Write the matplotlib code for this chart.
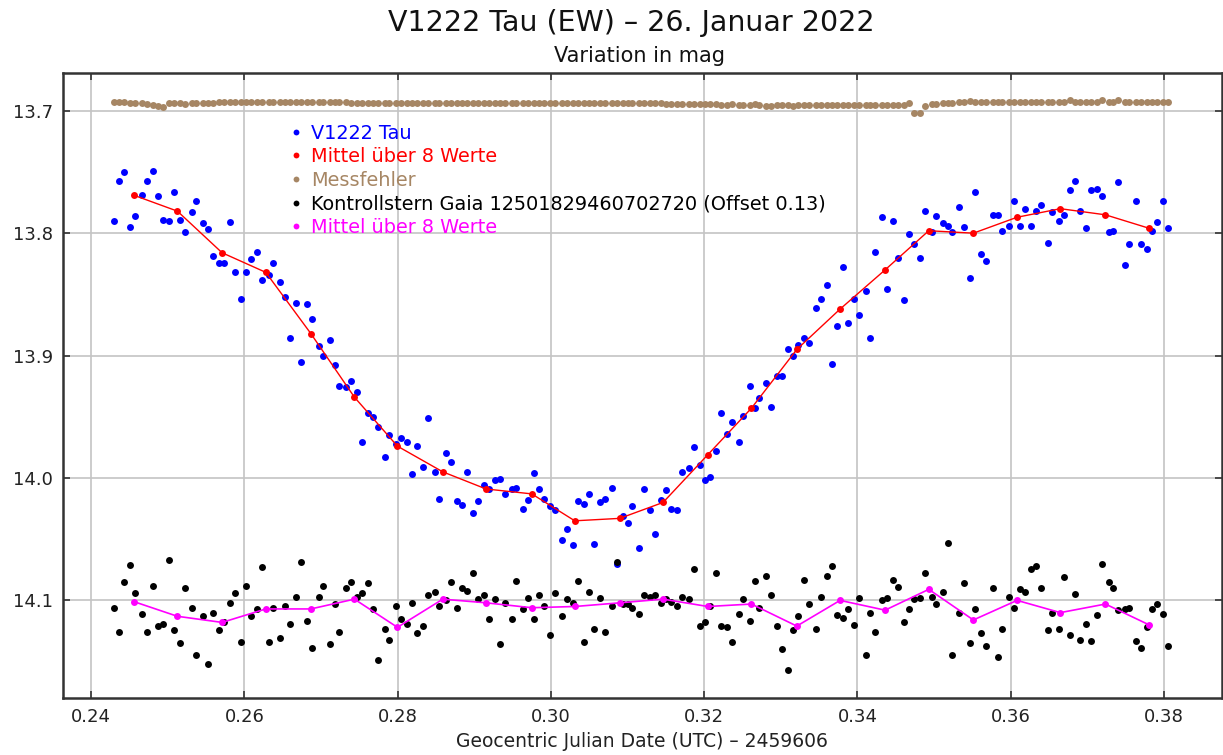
# -*- coding: utf-8 -*-
"""
V1222 Tau Lichtkurve (26.01.2022)
- Variable, Mittel ueber 8 Werte, Messfehler, Kontrollstern
"""

import matplotlib
matplotlib.use('Agg')
import matplotlib.pyplot as plt
from matplotlib.lines import Line2D

plt.rcParams['font.family'] = ['DejaVu Sans']

# ============================================================
# Daten (JD - 2459606)
# ============================================================
jd = [
    0.24300, 0.24369, 0.24431, 0.24513, 0.24578, 0.24662, 0.24727, 0.24809,
    0.24874, 0.24936, 0.25018, 0.25083, 0.25165, 0.25230, 0.25314, 0.25374,
    0.25457, 0.25523, 0.25588, 0.25666, 0.25731, 0.25818, 0.25879, 0.25961,
    0.26022, 0.26088, 0.26170, 0.26235, 0.26319, 0.26379, 0.26466, 0.26527,
    0.26593, 0.26675, 0.26736, 0.26822, 0.26884, 0.26971, 0.27031, 0.27115,
    0.27180, 0.27240, 0.27323, 0.27389, 0.27471, 0.27536, 0.27618, 0.27683,
    0.27745, 0.27832, 0.27892, 0.27976, 0.28045, 0.28127, 0.28188, 0.28254,
    0.28336, 0.28401, 0.28485, 0.28545, 0.28632, 0.28693, 0.28776, 0.28841,
    0.28902, 0.28988, 0.29050, 0.29132, 0.29193, 0.29275, 0.29341, 0.29406,
    0.29489, 0.29549, 0.29637, 0.29698, 0.29780, 0.29846, 0.29911, 0.29993,
    0.30054, 0.30142, 0.30207, 0.30289, 0.30354, 0.30437, 0.30498, 0.30563,
    0.30645, 0.30707, 0.30794, 0.30859, 0.30938, 0.31003, 0.31063, 0.31146,
    0.31212, 0.31294, 0.31359, 0.31441, 0.31503, 0.31568, 0.31650, 0.31715,
    0.31799, 0.31864, 0.31946, 0.32011, 0.32077, 0.32155, 0.32220, 0.32302,
    0.32364, 0.32451, 0.32511, 0.32595, 0.32660, 0.32720, 0.32803, 0.32869,
    0.32951, 0.33016, 0.33098, 0.33164, 0.33225, 0.33307, 0.33372, 0.33456,
    0.33521, 0.33603, 0.33665, 0.33730, 0.33812, 0.33877, 0.33960, 0.34021,
    0.34108, 0.34168, 0.34234, 0.34317, 0.34382, 0.34465, 0.34526, 0.34612,
    0.34673, 0.34734, 0.34821, 0.34882, 0.34969, 0.35030, 0.35113, 0.35178,
    0.35238, 0.35326, 0.35387, 0.35469, 0.35534, 0.35617, 0.35682, 0.35765,
    0.35831, 0.35891, 0.35978, 0.36039, 0.36126, 0.36187, 0.36269, 0.36334,
    0.36396, 0.36483, 0.36543, 0.36627, 0.36692, 0.36774, 0.36839, 0.36901,
    0.36983, 0.37048, 0.37130, 0.37196, 0.37279, 0.37339, 0.37404, 0.37488,
    0.37548, 0.37635, 0.37697, 0.37783, 0.37844, 0.37909, 0.37992, 0.38057,
]

var_mag = [
    13.790, 13.757, 13.750, 13.795, 13.786, 13.769, 13.757, 13.749,
    13.770, 13.789, 13.790, 13.766, 13.789, 13.799, 13.783, 13.774,
    13.792, 13.797, 13.819, 13.824, 13.824, 13.791, 13.832, 13.854,
    13.832, 13.821, 13.815, 13.838, 13.834, 13.824, 13.840, 13.852,
    13.886, 13.857, 13.905, 13.858, 13.870, 13.892, 13.900, 13.887,
    13.908, 13.925, 13.926, 13.921, 13.930, 13.971, 13.947, 13.950,
    13.958, 13.983, 13.965, 13.972, 13.967, 13.971, 13.997, 13.974,
    13.991, 13.951, 13.995, 14.017, 13.980, 13.987, 14.019, 14.022,
    13.995, 14.029, 14.019, 14.006, 14.009, 14.002, 14.001, 14.013,
    14.009, 14.008, 14.025, 14.018, 13.996, 14.009, 14.017, 14.023,
    14.026, 14.051, 14.042, 14.055, 14.019, 14.021, 14.013, 14.054,
    14.020, 14.017, 14.008, 14.070, 14.031, 14.037, 14.023, 14.057,
    14.009, 14.026, 14.046, 14.018, 14.010, 14.025, 14.026, 13.995,
    13.992, 13.975, 13.989, 14.002, 13.999, 13.978, 13.947, 13.964,
    13.954, 13.971, 13.949, 13.925, 13.943, 13.935, 13.922, 13.942,
    13.917, 13.917, 13.895, 13.900, 13.891, 13.886, 13.890, 13.861,
    13.854, 13.842, 13.907, 13.876, 13.828, 13.873, 13.854, 13.867,
    13.847, 13.886, 13.815, 13.787, 13.846, 13.790, 13.820, 13.855,
    13.801, 13.809, 13.820, 13.782, 13.799, 13.786, 13.792, 13.794,
    13.799, 13.779, 13.795, 13.837, 13.766, 13.817, 13.823, 13.785,
    13.785, 13.798, 13.794, 13.774, 13.794, 13.780, 13.794, 13.782,
    13.777, 13.808, 13.783, 13.790, 13.785, 13.765, 13.757, 13.782,
    13.796, 13.765, 13.764, 13.770, 13.799, 13.798, 13.758, 13.826,
    13.809, 13.774, 13.809, 13.813, 13.798, 13.791, 13.774, 13.796,
]

err_mag = [
    13.6928, 13.6928, 13.6928, 13.6935, 13.6935, 13.6938, 13.6945, 13.6952,
    13.6962, 13.6968, 13.6940, 13.6940, 13.6940, 13.6942, 13.6940, 13.6940,
    13.6940, 13.6938, 13.6935, 13.6932, 13.6928, 13.6928, 13.6928, 13.6926,
    13.6928, 13.6928, 13.6926, 13.6928, 13.6928, 13.6928, 13.6926, 13.6928,
    13.6928, 13.6928, 13.6926, 13.6928, 13.6930, 13.6930, 13.6930, 13.6932,
    13.6930, 13.6930, 13.6930, 13.6938, 13.6940, 13.6940, 13.6940, 13.6940,
    13.6940, 13.6938, 13.6940, 13.6940, 13.6940, 13.6940, 13.6940, 13.6940,
    13.6938, 13.6940, 13.6940, 13.6940, 13.6938, 13.6936, 13.6938, 13.6938,
    13.6935, 13.6938, 13.6938, 13.6936, 13.6935, 13.6935, 13.6935, 13.6935,
    13.6935, 13.6935, 13.6935, 13.6935, 13.6935, 13.6935, 13.6935, 13.6935,
    13.6935, 13.6935, 13.6935, 13.6935, 13.6940, 13.6940, 13.6940, 13.6940,
    13.6940, 13.6940, 13.6940, 13.6940, 13.6940, 13.6940, 13.6940, 13.6940,
    13.6940, 13.6940, 13.6940, 13.6940, 13.6945, 13.6945, 13.6945, 13.6945,
    13.6945, 13.6945, 13.6945, 13.6945, 13.6945, 13.6945, 13.6950, 13.6950,
    13.6948, 13.6950, 13.6950, 13.6950, 13.6948, 13.6952, 13.6960, 13.6962,
    13.6955, 13.6950, 13.6955, 13.6958, 13.6955, 13.6950, 13.6955, 13.6955,
    13.6950, 13.6950, 13.6955, 13.6955, 13.6950, 13.6950, 13.6950, 13.6952,
    13.6950, 13.6955, 13.6955, 13.6955, 13.6952, 13.6950, 13.6955, 13.6955,
    13.6937, 13.7018, 13.7018, 13.6964, 13.6941, 13.6941, 13.6938, 13.6935,
    13.6938, 13.6930, 13.6925, 13.6918, 13.6925, 13.6928, 13.6928, 13.6928,
    13.6928, 13.6928, 13.6928, 13.6928, 13.6928, 13.6928, 13.6928, 13.6928,
    13.6925, 13.6928, 13.6928, 13.6928, 13.6928, 13.6908, 13.6925, 13.6928,
    13.6928, 13.6928, 13.6928, 13.6910, 13.6928, 13.6928, 13.6912, 13.6928,
    13.6928, 13.6928, 13.6928, 13.6928, 13.6928, 13.6928, 13.6928, 13.6928,
]

chk_mag = [
    14.106, 14.126, 14.085, 14.071, 14.094, 14.111, 14.126, 14.088,
    14.121, 14.119, 14.067, 14.124, 14.135, 14.090, 14.106, 14.145,
    14.113, 14.152, 14.110, 14.124, 14.118, 14.102, 14.094, 14.134,
    14.088, 14.113, 14.107, 14.073, 14.134, 14.106, 14.131, 14.105,
    14.119, 14.097, 14.069, 14.117, 14.139, 14.097, 14.088, 14.136,
    14.103, 14.126, 14.090, 14.085, 14.097, 14.094, 14.086, 14.107,
    14.149, 14.123, 14.132, 14.105, 14.115, 14.119, 14.102, 14.127,
    14.121, 14.096, 14.093, 14.105, 14.100, 14.085, 14.106, 14.090,
    14.092, 14.078, 14.099, 14.096, 14.115, 14.099, 14.136, 14.102,
    14.115, 14.084, 14.107, 14.098, 14.115, 14.096, 14.105, 14.128,
    14.094, 14.113, 14.099, 14.102, 14.084, 14.134, 14.093, 14.123,
    14.098, 14.126, 14.105, 14.069, 14.103, 14.103, 14.106, 14.111,
    14.096, 14.097, 14.096, 14.102, 14.099, 14.101, 14.105, 14.097,
    14.099, 14.074, 14.121, 14.118, 14.105, 14.078, 14.121, 14.122,
    14.134, 14.111, 14.099, 14.117, 14.084, 14.106, 14.080, 14.096,
    14.121, 14.140, 14.157, 14.124, 14.113, 14.083, 14.103, 14.123,
    14.097, 14.080, 14.072, 14.112, 14.114, 14.107, 14.120, 14.098,
    14.145, 14.110, 14.126, 14.100, 14.098, 14.083, 14.089, 14.118,
    14.107, 14.099, 14.098, 14.078, 14.097, 14.103, 14.093, 14.053,
    14.145, 14.110, 14.086, 14.135, 14.107, 14.127, 14.137, 14.090,
    14.146, 14.123, 14.097, 14.106, 14.091, 14.093, 14.074, 14.072,
    14.090, 14.124, 14.110, 14.123, 14.081, 14.128, 14.095, 14.132,
    14.119, 14.133, 14.112, 14.070, 14.085, 14.090, 14.108, 14.107,
    14.106, 14.133, 14.139, 14.122, 14.107, 14.103, 14.111, 14.137,
]

# Mittelwerte ueber je 8 Werte
mean_jd = [
    0.24557, 0.25126, 0.25709, 0.26279, 0.26867, 0.27436, 0.27997, 0.28589,
    0.29154, 0.29750, 0.30311, 0.30898, 0.31463, 0.32047, 0.32616, 0.33208,
    0.33773, 0.34360, 0.34930, 0.35512, 0.36082, 0.36647, 0.37235, 0.37805,
]
var_mean = [
    13.769, 13.782, 13.816, 13.832, 13.882, 13.934, 13.974, 13.995,
    14.009, 14.013, 14.035, 14.033, 14.020, 13.981, 13.943, 13.895,
    13.862, 13.830, 13.798, 13.800, 13.787, 13.780, 13.785, 13.796,
]
chk_mean = [
    14.101, 14.113, 14.118, 14.107, 14.107, 14.099, 14.122, 14.099,
    14.102, 14.106, 14.105, 14.102, 14.099, 14.105, 14.103, 14.121,
    14.100, 14.108, 14.091, 14.116, 14.100, 14.110, 14.103, 14.120,
]

c_var = '#0000ff'
c_mean = '#ff0000'
c_err = '#a68664'
c_chk = '#000000'
c_chk_mean = '#ff00ff'

labels = ['V1222 Tau', 'Mittel über 8 Werte', 'Messfehler',
          'Kontrollstern Gaia 12501829460702720 (Offset 0.13)',
          'Mittel über 8 Werte']

# ============================================================
# Plot
# ============================================================
fig = plt.figure(figsize=(12.23, 7.55), dpi=100)
ax = fig.add_axes([0.0513, 0.0751, 0.9475, 0.8278])

ms = 5.0
ax.plot(jd, err_mag, 'o', color=c_err, markersize=ms, markeredgewidth=0, zorder=3)
ax.plot(jd, var_mag, 'o', color=c_var, markersize=ms, markeredgewidth=0, zorder=3)
ax.plot(mean_jd, var_mean, 'o-', color=c_mean, markersize=ms, markeredgewidth=0,
        linewidth=1.0, zorder=4)
ax.plot(jd, chk_mag, 'o', color=c_chk, markersize=ms, markeredgewidth=0, zorder=3)
ax.plot(mean_jd, chk_mean, 'o-', color=c_chk_mean, markersize=ms, markeredgewidth=0,
        linewidth=1.2, zorder=4)

ax.set_xlim(0.2363, 0.3875)
ax.set_ylim(14.180, 13.6694)
ax.set_xticks([0.24, 0.26, 0.28, 0.30, 0.32, 0.34, 0.36, 0.38])
ax.set_yticks([13.7, 13.8, 13.9, 14.0, 14.1])
ax.set_xticklabels([f'{v:.2f}' for v in ax.get_xticks()])
ax.set_yticklabels([f'{v:.1f}' for v in ax.get_yticks()])
ax.tick_params(direction='in', length=5, width=1.2, top=True, right=True,
               labelsize=13, labelcolor='#222222', color='#333333', pad=7)
ax.grid(True, color='#c4c4c4', linewidth=1.2, zorder=0)
ax.set_axisbelow(True)
for sp in ax.spines.values():
    sp.set_color('#333333')
    sp.set_linewidth(1.8)

ax.set_xlabel('Geocentric Julian Date (UTC) \u2013 2459606', fontsize=13.5,
              color='#222222', labelpad=4)

fig.text(0.516, 0.970, 'V1222 Tau (EW) \u2013 26. Januar 2022', ha='center',
         va='center', fontsize=20.5, color='#111111')
fig.text(0.523, 0.926, 'Variation in mag', ha='center', va='center',
         fontsize=15, color='#111111')

# Legende ohne Rahmen, Textfarbe wie Serie
colors = [c_var, c_mean, c_err, c_chk, c_chk_mean]
handles = [Line2D([], [], marker='o', linestyle='none', color=c,
                  markersize=4.2, markeredgewidth=0) for c in colors]
ax.legend(handles, labels, loc='upper left', bbox_to_anchor=(0.1895, 0.932),
          frameon=False, fontsize=13.9, labelcolor=colors, handlelength=0.6,
          handletextpad=0.5, labelspacing=0.24, borderaxespad=0)

fig.savefig('out.png', dpi=100)
plt.close(fig)
